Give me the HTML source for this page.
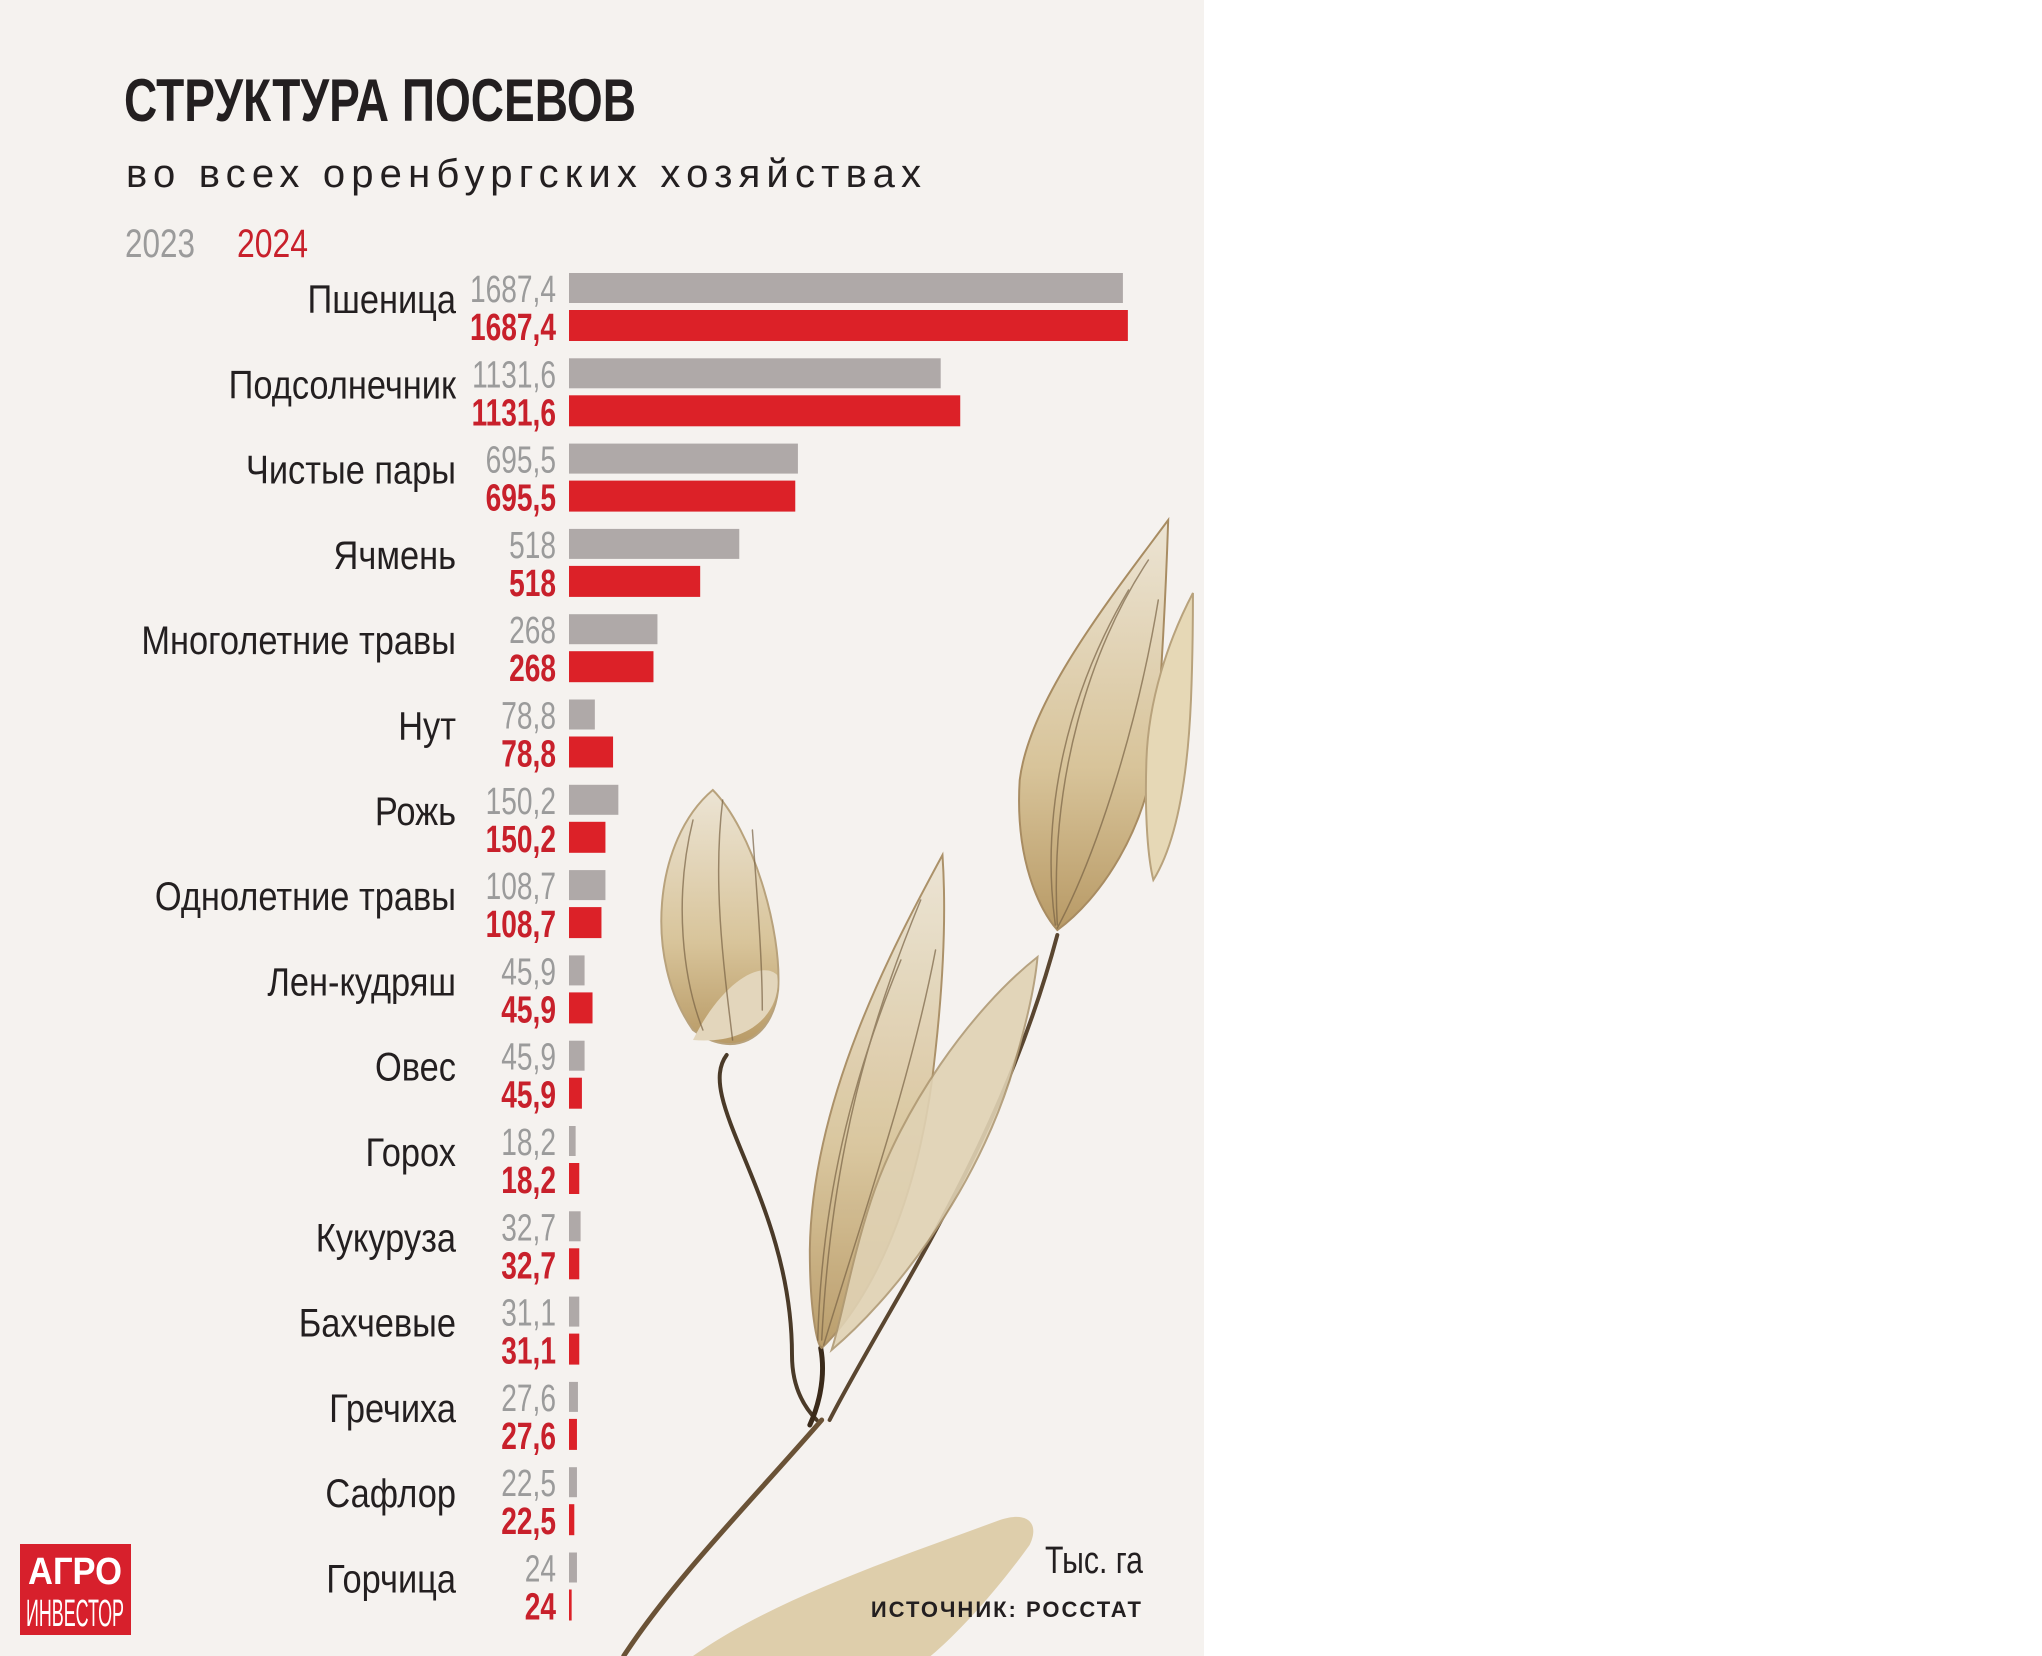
<!DOCTYPE html>
<html><head><meta charset="utf-8">
<style>
html,body{margin:0;padding:0;background:#fff;}
svg{display:block;}
text{font-family:"Liberation Sans Narrow","Liberation Sans",sans-serif;}
</style></head>
<body>
<svg width="2042" height="1656" viewBox="0 0 2042 1656" xmlns="http://www.w3.org/2000/svg">
<defs>
<linearGradient id="leaf" x1="0" y1="0" x2="0" y2="1">
<stop offset="0" stop-color="#ece4d4"/><stop offset="0.6" stop-color="#d8c49a"/><stop offset="1" stop-color="#b89a66"/>
</linearGradient>
</defs>
<rect x="0" y="0" width="1204" height="1656" fill="#f5f2ef"/>
<g stroke-linecap="round" transform="scale(0.99,1)">
<path d="M734,1055 C700,1100 800,1200 800,1355 C800,1390 815,1410 825,1420" fill="none" stroke="#4a3a28" stroke-width="4"/>
<path d="M1068,935 C1010,1150 900,1300 838,1420" fill="none" stroke="#5a4630" stroke-width="4"/>
<path d="M830,1420 C760,1500 680,1580 630,1656" fill="none" stroke="#6a5236" stroke-width="5"/>
<path d="M829,1348 C835,1380 825,1410 818,1425" fill="none" stroke="#3a2a1a" stroke-width="5"/>
<path d="M720,790 C660,840 650,960 700,1030 C740,1060 780,1040 786,990 C790,930 760,830 720,790 Z" fill="url(#leaf)" stroke="#b8a27c" stroke-width="2"/>
<path d="M700,1040 C730,980 770,960 785,975 C790,1010 760,1045 700,1040 Z" fill="#e3d6bc"/>
<path d="M952,855 C900,950 820,1100 818,1250 C818,1310 825,1345 830,1348 C880,1300 930,1200 945,1050 C955,960 955,900 952,855 Z" fill="url(#leaf)" stroke="#a88c62" stroke-width="2" opacity="0.95"/>
<path d="M1048,957 C980,1010 910,1110 880,1200 C860,1260 850,1320 840,1350 C900,1300 980,1200 1020,1080 C1035,1030 1045,990 1048,957 Z" fill="#e0d2b4" stroke="#b09a74" stroke-width="2" opacity="0.9"/>
<path d="M1180,520 C1120,600 1040,700 1030,780 C1025,860 1050,910 1068,930 C1110,900 1160,830 1168,740 C1175,650 1178,580 1180,520 Z" fill="url(#leaf)" stroke="#a88c62" stroke-width="2"/>
<path d="M1205,593 C1180,640 1160,700 1158,760 C1156,820 1160,860 1165,880 C1190,840 1200,770 1203,700 C1205,650 1205,615 1205,593 Z" fill="#e6d8b6" stroke="#b8a27c" stroke-width="2"/>
<path d="M700,1656 C780,1600 900,1560 1010,1520 C1040,1510 1050,1525 1040,1545 C1000,1600 960,1640 940,1656 Z" fill="#d8c49a" opacity="0.8"/>
<g stroke="#7a6446" stroke-width="1.5" fill="none" opacity="0.7">
<path d="M700,820 C680,900 690,980 710,1030"/><path d="M730,800 C720,880 730,960 740,1040"/><path d="M760,830 C765,900 770,960 770,1010"/>
<path d="M930,900 C880,1020 840,1150 830,1340"/><path d="M945,950 C920,1080 870,1220 832,1345"/><path d="M910,960 C860,1080 830,1200 826,1340"/>
<path d="M1160,560 C1100,650 1060,780 1068,925"/><path d="M1170,600 C1150,720 1110,850 1068,928"/><path d="M1140,590 C1080,690 1050,810 1066,925"/>
</g>
</g>
<text x="124" y="121" font-size="60" font-weight="bold" fill="#231f20" textLength="512" lengthAdjust="spacingAndGlyphs">СТРУКТУРА ПОСЕВОВ</text>
<text x="126" y="187" font-size="40" fill="#231f20" textLength="795" lengthAdjust="spacing">во всех оренбургских хозяйствах</text>
<text x="125" y="257" font-size="40" fill="#9b9b9b" textLength="70" lengthAdjust="spacingAndGlyphs">2023</text>
<text x="237" y="257" font-size="40" fill="#c8202b" textLength="71" lengthAdjust="spacingAndGlyphs">2024</text>
<g id="bars"></g>
<text x="1143" y="1573" font-size="38" fill="#231f20" text-anchor="end" textLength="98" lengthAdjust="spacingAndGlyphs">Тыс. га</text>
<text x="1143" y="1617" font-size="22" font-weight="bold" fill="#231f20" text-anchor="end" letter-spacing="2">ИСТОЧНИК: РОССТАТ</text>
<g>
<rect x="20" y="1544" width="111" height="91" fill="#d7202c"/>
<text x="75" y="1584" font-size="38" font-weight="bold" fill="#fff" text-anchor="middle" textLength="94" lengthAdjust="spacingAndGlyphs" font-family="Liberation Serif, serif">АГРО</text>
<text x="75" y="1626" font-size="38" fill="#fff" text-anchor="middle" textLength="98" lengthAdjust="spacingAndGlyphs">ИНВЕСТОР</text>
</g>
</svg>
<script>
const categories = ["Пшеница","Подсолнечник","Чистые пары","Ячмень","Многолетние травы","Нут","Рожь","Однолетние травы","Лен-кудряш","Овес","Горох","Кукуруза","Бахчевые","Гречиха","Сафлор","Горчица"];
const labels2023 = ["1687,4","1131,6","695,5","518","268","78,8","150,2","108,7","45,9","45,9","18,2","32,7","31,1","27,6","22,5","24"];
const labels2024 = ["1687,4","1131,6","695,5","518","268","78,8","150,2","108,7","45,9","45,9","18,2","32,7","31,1","27,6","22,5","24"];
const values2023 = [1672,1122,691,514,267,78,149,110,47,47,20,35,31,27,24,24];
const values2024 = [1687,1181,683,396,255,133,110,98,71,39,31,31,31,24,16,8];

const NS = "http://www.w3.org/2000/svg";
const g = document.getElementById("bars");
const x0 = 569, xScale = v => v * (559 / 1687.4);
const rowY = i => 273 + i * 85.3;
function mk(parent, tag, attrs, txt){ const e=document.createElementNS(NS,tag); for(const k in attrs) e.setAttribute(k,attrs[k]); if(txt!==undefined) e.textContent=txt; parent.appendChild(e); return e; }
function sText(x, y, sx, attrs, txt){
  const wrap = mk(g, "g", {transform:`translate(${x},${y}) scale(${sx},1)`});
  return mk(wrap, "text", Object.assign({x:0,y:0,"text-anchor":"end"}, attrs), txt);
}
categories.forEach((c,i)=>{
  const y = rowY(i);
  const lab = sText(456, y+40, 0.86, {"font-size":40,fill:"#231f20"}, c);
  
  
  const v1 = sText(556, y+29, 0.74, {"font-size":38,fill:"#9b9b9b"}, labels2023[i]);
  
  
  const v2 = sText(556, y+67, 0.74, {"font-size":38,"font-weight":"bold",fill:"#c8202b"}, labels2024[i]);
  
  
  const b1 = mk(g, "rect",{x:x0,y:y,width:Math.max(2,xScale(values2023[i])),height:30,fill:"#afa9a8"});
  
  
  const b2 = mk(g, "rect",{x:x0,y:y+37,width:Math.max(2,xScale(values2024[i])),height:31,fill:"#dc2128"});
  
  
});
</script>
</body></html>
